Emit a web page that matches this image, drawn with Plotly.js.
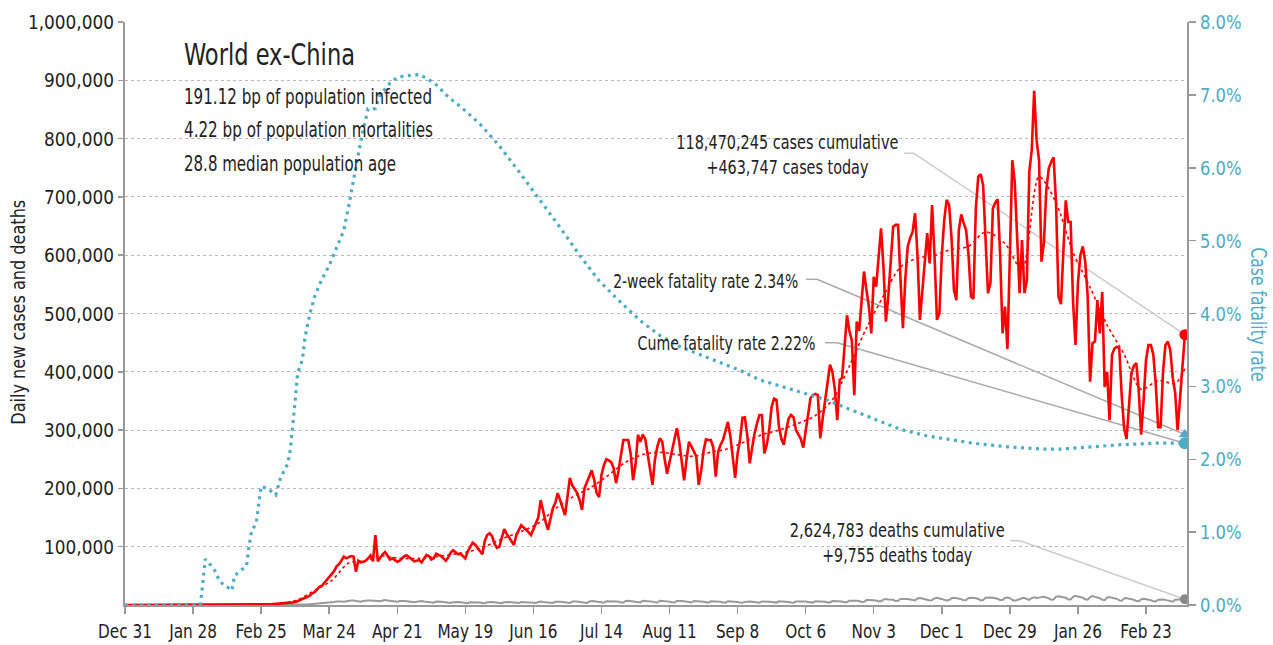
<!DOCTYPE html>
<html><head><meta charset="utf-8">
<script src="https://cdn.plot.ly/plotly-3.0.1.min.js"></script>
<style>html,body{margin:0;padding:0;background:#fff;}#chart{width:1273px;height:645px;}</style>
</head><body><div id="chart"></div>
<script>
// ---------------- DATA ----------------
const startDate = '2019-12-31';   // day index 0; one value per day up to 2021-03-11
// Daily new cases (thousands)
const casesK = [
0,0,0,0,0,0,0,
0,0,0,0,0,0,0,
0,0,0,0,0,0,0,
0,0,0,0,0,0,0,
0,0,0,0,0,0,0,
0,0,0,0,0,0,0,0.1,
0.1,0.1,0.1,0.1,0.1,0.2,0.2,
0.2,0.3,0.3,0.4,0.5,0.6,0.7,
0.9,1.0,1.2,1.3,1.5,1.8,2.0,
2.3,2.6,3.0,3.4,4.0,4.4,5.0,
6.5,8.5,10,12,14,16,20,
22,26,31,33,38,42,46,
52,58,66,70,76,83,80,
82,84,83,57,76,73,74,
76,80,85,75,120,75,82,
87,91,85,78,80,77,74,
76,80,84,85,82,78,75,76,
77,73,80,86,84,78,80,
88,86,84,80,76,82,90,
94,90,87,88,84,80,92,
100,107,104,98,92,87,110,
120,123,118,105,98,100,115,
130,122,115,110,103,120,130,
137,133,128,125,120,130,143,
150,180,160,143,129,150,166,
175,192,180,165,154,185,218,
205,198,192,180,163,200,211,
220,231,215,192,185,223,240,
250,248,245,235,209,230,260,283,
283,283,260,214,240,292,280,
292,285,260,230,206,250,272,
286,280,250,225,245,266,285,
303,280,245,214,250,280,272,
263,255,206,230,265,284,283,
283,270,220,263,275,283,300,
314,290,255,218,260,283,321,
322,290,243,270,295,312,326,
326,260,275,300,340,354,352,
306,285,275,300,320,326,322,
300,292,285,270,300,330,355,360,
362,360,286,320,350,381,412,
400,370,317,386,390,440,497,
470,454,360,486,470,520,572,
540,512,466,563,546,600,646,
580,486,530,600,649,652,652,
560,475,560,615,630,640,672,
600,489,540,600,638,586,686,
600,489,500,600,660,695,686,
630,540,523,643,670,655,643,
600,529,525,680,735,739,720,
620,535,552,680,690,696,600,466,
512,439,600,763,726,620,535,
626,535,557,743,780,882,797,
763,589,621,712,749,760,768,
689,529,516,621,694,657,657,
520,446,552,600,615,589,530,
383,449,452,523,466,537,374,
400,317,429,440,443,440,360,
303,285,350,398,410,415,369,
292,350,420,446,446,430,380,
305,305,400,446,452,437,390,
364,300,360,415,463.747
];
// Daily new deaths (thousands)
const deathsK = [
0,0,0,0,0,0,0,
0,0,0,0,0,0,0,
0,0,0,0,0,0,0,
0,0,0,0,0,0,0,
0,0,0,0,0,0,0,
0,0,0,0,0,0,0,0,
0,0,0,0,0,0,0,
0,0,0,0,0,0,0,
0,0,0,0,0,0.1,0.1,
0.1,0.1,0.1,0.2,0.2,0.3,0.4,
0.4,0.5,0.6,0.8,1.0,1.3,1.6,
1.8,2.1,2.5,3.1,3.5,3.6,4.2,
4.8,5.2,5.9,6.3,6.0,5.6,6.4,
7.5,7.8,7.6,7.0,6.2,5.6,7.0,
7.9,7.8,7.6,7.2,6.1,5.7,6.3,
7.8,8.6,7.6,7.3,6.8,5.8,5.4,
6.8,7.2,6.9,6.5,5.6,4.5,4.6,5.5,
6.2,6.8,6.1,5.7,5.2,4.1,3.9,
5.8,6.2,5.6,5.3,4.6,3.5,3.4,
4.9,5.3,5.0,4.7,4.4,3.2,3.1,
4.7,4.9,4.9,4.8,4.3,3.3,3.0,
4.6,5.2,5.0,4.6,4.1,3.0,3.1,
4.8,5.5,5.0,4.7,4.2,3.2,3.3,
5.0,5.2,5.0,4.5,4.2,3.4,3.3,
5.1,5.8,5.1,4.9,4.4,3.3,3.5,
5.5,6.0,5.6,5.2,4.6,3.2,3.3,
5.8,6.1,5.8,5.3,4.8,3.6,3.5,
5.9,6.8,6.3,5.8,5.3,4.0,3.8,
6.6,6.8,7.0,6.6,6.2,5.8,4.3,4.2,
7.0,7.2,6.8,6.4,5.9,4.6,4.4,
7.2,7.0,6.6,6.3,5.8,4.5,4.3,
7.1,7.0,6.6,6.4,5.8,4.6,4.2,
7.0,7.4,6.9,6.3,5.8,4.6,4.3,
6.9,7.0,6.4,6.0,5.5,4.5,4.0,
6.6,6.5,6.1,5.9,5.4,4.4,4.1,
6.5,6.4,6.0,5.7,5.2,4.3,3.8,
5.3,6.3,6.0,5.6,5.1,4.2,4.0,
6.2,6.3,6.0,5.6,5.3,4.3,4.1,
6.4,6.3,5.9,5.7,5.3,4.2,4.0,
6.2,6.3,6.1,5.9,5.8,5.3,4.2,4.1,
6.3,6.4,6.3,6.0,5.5,4.4,4.4,
6.8,6.9,6.8,6.5,6.0,4.8,4.9,
7.4,7.6,7.6,7.3,6.8,5.3,5.5,
8.4,8.7,8.5,8.4,7.6,6.3,6.5,
9.2,10.4,9.6,9.3,8.9,6.8,7.2,
10.5,11.0,10.4,10.2,9.4,7.5,7.9,
11.2,12.1,11.0,10.0,9.9,7.8,8.3,
11.4,12.3,11.3,10.6,9.9,7.7,8.6,
11.6,12.4,11.9,11.0,10.1,8.0,8.4,
11.9,12.6,12.3,11.5,10.4,7.8,8.5,
12.4,13.0,12.7,12.5,11.8,10.7,8.4,8.6,
12.0,13.0,11.9,8.5,7.5,8.2,9.8,
11.9,11.9,10.3,8.9,11.9,13.4,12.1,
12.2,13.5,14.1,13.2,11.3,8.9,9.5,
14.4,15.1,14.2,13.6,12.6,9.6,9.5,
14.0,15.6,14.4,14.0,12.7,9.8,9.2,
13.6,15.2,14.0,13.2,11.6,8.8,8.4,
12.9,13.6,12.3,11.8,10.5,7.9,7.4,
11.3,11.9,10.8,10.3,9.0,6.8,6.6,
9.7,10.6,9.8,9.4,8.3,6.3,6.0,
8.9,9.8,9.4,8.8,7.8,5.8,5.6,
8.9,9.8,9.5,9.3,9.755
];
// 7-day average of cases (thousands), read weekly
const avgDays   = [57,64,71,78,85,92,99,106,113,121,128,135,142,149,156,163,170,177,184,191,198,206,213,220,227,234,241,248,255,262,269,276,284,291,298,305,312,319,326,333,340,347,354,362,369,376,383,390,397,404,411,418,425,432,436];
const avgCasesK = [1,2.5,9,25,42,72,76,84,80,80,83,87,92,102,115,126,140,165,185,200,220,245,258,262,258,255,262,268,280,292,300,310,325,352,410,475,530,580,595,600,610,615,640,620,575,735,690,605,545,480,430,370,385,380,405];
// Case fatality rate (%)
const cfrDays = [0,31,32,33,34,35,37,39,42,44,45,48,50,51,52,54,55,56,59,62,64,67,68,69,70,71,73,74,76,78,81,84,87,90,92,94,96,98,100,103,105,109,112,115,121,124,128,133,138,146,154,162,171,179,187,195,204,212,220,228,237,245,253,261,270,281,289,297,308,319,330,340,349,363,377,385,397,410,424,436];
const cfrPct  = [0,0,0.3,0.63,0.6,0.56,0.47,0.32,0.25,0.2,0.4,0.49,0.54,0.8,1.0,1.13,1.42,1.63,1.59,1.51,1.75,1.94,2.13,2.42,2.8,3.18,3.37,3.66,3.99,4.23,4.47,4.66,4.9,5.14,5.47,5.85,6.19,6.52,6.81,6.81,7.0,7.16,7.24,7.26,7.28,7.23,7.14,6.97,6.84,6.6,6.3,5.95,5.55,5.18,4.8,4.45,4.15,3.9,3.7,3.55,3.43,3.32,3.22,3.09,3.0,2.9,2.81,2.7,2.55,2.41,2.32,2.27,2.22,2.17,2.14,2.14,2.17,2.2,2.22,2.22];
// Headline figures
const region = 'World ex-China';
const infectedBp = '191.12';
const mortalityBp = '4.22';
const medianAge = '28.8';
const totalCases = 118470245;
const casesToday = 463747;
const totalDeaths = 2624783;
const deathsToday = 9755;
const twoWeekCfr = 2.34;
const cumeCfr = 2.22;
// Axis ticks
const yTickVals = [100,200,300,400,500,600,700,800,900,1000];
const yTickText = ['100,000','200,000','300,000','400,000','500,000','600,000','700,000','800,000','900,000','1,000,000'];

// ---------------- HELPERS ----------------
const DAY = 86400000;
const t0 = Date.parse(startDate + 'T00:00:00Z');
function dayToDate(d){ return new Date(t0 + d*DAY).toISOString().replace('T',' ').slice(0,19); }
const days = casesK.map((_, i) => dayToDate(i));
const lastIdx = casesK.length - 1;
const lastDate = days[lastIdx];

// plot geometry (pixels)
const W = 1273, H = 645, L = 125, R = 1187, T = 22, B = 605;
const pxPerDay = (1146 - 125) / 420;
const xEndDay = (R - L) / pxPerDay;
const pxToDate = px => dayToDate((px - L) / pxPerDay);
const pyToK = py => (B - py) / (B - T) * 1000;
const pyToPct = py => (B - py) / (B - T) * 8;
const ppx = px => (px - L) / (R - L);
const ppy = py => (B - py) / (B - T);
const fmt = n => n.toLocaleString('en-US');

const FONT = "'Liberation Sans Narrow', 'Arial Narrow', 'DejaVu Sans Condensed', sans-serif";
const TEAL = 'rgb(75,172,198)';
const RED = '#ff0000';
const TXT = '#222222';

// ---------------- TRACES ----------------
const traces = [
  { x: cfrDays.map(dayToDate), y: cfrPct, yaxis: 'y2', type: 'scatter', mode: 'lines',
    line: { color: TEAL, width: 3.2, dash: '3px,4.5px' }, hoverinfo: 'skip' },
  { x: days, y: deathsK, type: 'scatter', mode: 'lines',
    line: { color: '#999999', width: 2 }, hoverinfo: 'skip' },
  { x: days, y: casesK, type: 'scatter', mode: 'lines',
    line: { color: RED, width: 2.6 }, hoverinfo: 'skip' },
  { x: avgDays.map(dayToDate), y: avgCasesK, type: 'scatter', mode: 'lines',
    line: { color: RED, width: 1.6, dash: 'dot', shape: 'spline', smoothing: 0.8 }, hoverinfo: 'skip' },
  { x: [lastDate], y: [casesK[lastIdx]], type: 'scatter', mode: 'markers',
    marker: { color: RED, size: 11 }, hoverinfo: 'skip' },
  { x: [lastDate], y: [deathsK[lastIdx]], type: 'scatter', mode: 'markers',
    marker: { color: '#888888', size: 10 }, hoverinfo: 'skip' },
  { x: [lastDate], y: [twoWeekCfr], yaxis: 'y2', type: 'scatter', mode: 'markers',
    marker: { color: TEAL, size: 11, symbol: 'triangle-up' }, hoverinfo: 'skip' },
  { x: [lastDate], y: [cfrPct[cfrPct.length - 1]], yaxis: 'y2', type: 'scatter', mode: 'markers',
    marker: { color: TEAL, size: 12 }, hoverinfo: 'skip' }
];

// ---------------- LEADER LINES ----------------
function leader(pxA, pxB, py, endY, yref, toY, color){
  return [
    { type: 'line', xref: 'x', yref: yref, x0: pxToDate(pxA), x1: pxToDate(pxB), y0: toY(py), y1: toY(py),
      line: { color: color, width: 1.5 }, layer: 'below' },
    { type: 'line', xref: 'x', yref: yref, x0: pxToDate(pxB), x1: lastDate, y0: toY(py), y1: endY,
      line: { color: color, width: 1.5 }, layer: 'below' }
  ];
}
const shapes = [].concat(
  leader(904, 914, 153.3, casesK[lastIdx], 'y', pyToK, '#cccccc'),
  leader(806, 817, 279.3, twoWeekCfr, 'y2', pyToPct, '#aaaaaa'),
  leader(825, 837, 342.7, cumeCfr, 'y2', pyToPct, '#aaaaaa'),
  leader(1010, 1020, 540.7, deathsK[lastIdx], 'y', pyToK, '#cccccc')
);

// ---------------- ANNOTATIONS ----------------
function txt(text, px, py, size, anchor, color, angle){
  return { text: text, xref: 'paper', yref: 'paper', x: ppx(px), y: ppy(py),
    xanchor: anchor, yanchor: 'middle', showarrow: false, textangle: angle || 0,
    font: { family: FONT, size: size, color: color || TXT } };
}
const annotations = [
  txt(region, 182, 55, 30, 'left'),
  txt(infectedBp + ' bp of population infected', 182, 97, 21, 'left'),
  txt(mortalityBp + ' bp of population mortalities', 182, 130, 21, 'left'),
  txt(medianAge + ' median population age', 182, 164, 21, 'left'),
  txt(fmt(totalCases) + ' cases cumulative', 787, 142, 20, 'center'),
  txt('+' + fmt(casesToday) + ' cases today', 787, 167, 20, 'center'),
  txt('2-week fatality rate ' + twoWeekCfr.toFixed(2) + '%', 800, 281, 20, 'right'),
  txt('Cume fatality rate ' + cumeCfr.toFixed(2) + '%', 818, 343, 20, 'right'),
  txt(fmt(totalDeaths) + ' deaths cumulative', 897, 530, 20, 'center'),
  txt('+' + fmt(deathsToday) + ' deaths today', 897, 555, 20, 'center'),
  txt('Daily new cases and deaths', 18, 312, 20, 'center', TXT, -90),
  txt('Case fatality rate', 1258, 314, 21, 'center', TEAL, 90)
];
// widths (px) of each annotation line in the reference, used to condense the fallback font
const annoWidths = [171, 248, 249, 212, 222, 162, 185, 178, 215, 150, 225, 134];

// ---------------- LAYOUT ----------------
const layout = {
  width: W, height: H,
  margin: { l: L, r: W - R, t: T, b: H - B, pad: 0 },
  paper_bgcolor: '#ffffff', plot_bgcolor: '#ffffff',
  showlegend: false,
  font: { family: FONT, size: 20, color: TXT },
  xaxis: {
    type: 'date', range: [dayToDate(0), dayToDate(xEndDay)],
    tick0: startDate, dtick: 28 * DAY, tickformat: '%b %-d',
    ticks: 'outside', ticklen: 7, tickwidth: 1.5, tickcolor: '#999999',
    showline: true, linecolor: '#999999', linewidth: 2,
    showgrid: false, zeroline: false,
    tickfont: { family: FONT, size: 20, color: TXT }
  },
  yaxis: {
    range: [0, 1000], tickmode: 'array', tickvals: yTickVals, ticktext: yTickText,
    ticks: 'outside', ticklen: 5, tickwidth: 1.5, tickcolor: '#999999',
    showline: true, linecolor: '#999999', linewidth: 2,
    showgrid: true, gridcolor: '#b8b8b8', gridwidth: 1, griddash: 'dot',
    zeroline: false,
    tickfont: { family: FONT, size: 20, color: TXT }
  },
  yaxis2: {
    overlaying: 'y', side: 'right', range: [0, 8], dtick: 1, tickformat: '.1f', ticksuffix: '%',
    ticks: 'outside', ticklen: 7, tickwidth: 1.5, tickcolor: '#999999',
    showline: true, linecolor: '#999999', linewidth: 2,
    showgrid: false, zeroline: false,
    tickfont: { family: FONT, size: 20, color: TEAL }
  },
  shapes: shapes,
  annotations: annotations
};

// condense text to a target width; shift so the anchored edge stays in place
function squeezeEl(t, targetW, anchor){
  const w = t.getComputedTextLength();
  if (w > 0 && targetW < w) {
    t.setAttribute('textLength', targetW.toFixed(1));
    t.setAttribute('lengthAdjust', 'spacingAndGlyphs');
    const ta = t.getAttribute('text-anchor') || 'start';
    if (anchor && ta === 'middle') {
      const dx = anchor === 'left' ? -(w - targetW) / 2 : anchor === 'right' ? (w - targetW) / 2 : 0;
      if (dx) t.setAttribute('x', (parseFloat(t.getAttribute('x') || '0') + dx).toFixed(2));
    }
  }
}
Plotly.newPlot('chart', traces, layout, { staticPlot: true, displayModeBar: false }).then(gd => {
  gd.querySelectorAll('.xtick text').forEach(t => squeezeEl(t, t.getComputedTextLength() * 0.85));
  gd.querySelectorAll('.ytick text').forEach(t => squeezeEl(t, t.getComputedTextLength() * 0.94));
  gd.querySelectorAll('.y2tick text').forEach(t => squeezeEl(t, t.getComputedTextLength() * 0.91));
  gd.querySelectorAll('.annotation-text').forEach((t, i) => {
    if (annoWidths[i]) squeezeEl(t, annoWidths[i], annotations[i].xanchor);
  });
});
</script>
</body></html>
